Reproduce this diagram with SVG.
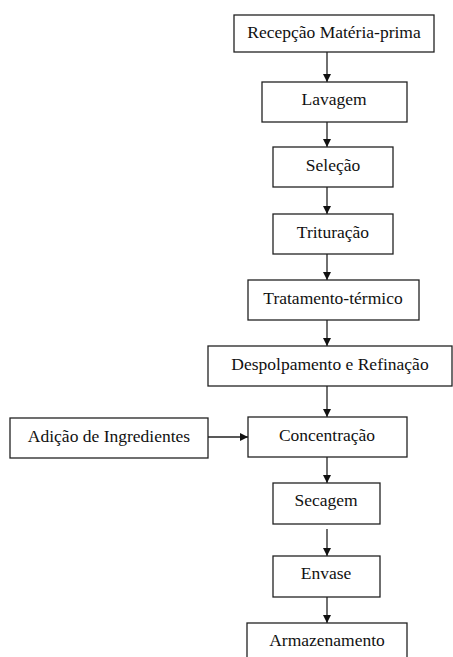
<svg xmlns="http://www.w3.org/2000/svg" width="453" height="657" viewBox="0 0 453 657">
<style>
.b{fill:#fff;stroke:#222;stroke-width:1.3}
.t{font-family:"Liberation Serif","Times New Roman",serif;font-size:17.5px;fill:#111;text-anchor:middle}
.c{stroke:#222;stroke-width:1.3;fill:none;marker-end:url(#a)}
</style>
<defs>
<marker id="a" viewBox="0 0 10 10" refX="10" refY="5" markerWidth="8" markerHeight="8" markerUnits="userSpaceOnUse" orient="auto">
<path d="M0,0 L10,5 L0,10 z" fill="#111"/>
</marker>
</defs>
<rect width="453" height="657" fill="#fff"/>
<g id="connectors">
<line class="c" x1="327" y1="52" x2="327" y2="82"/>
<line class="c" x1="327" y1="122" x2="327" y2="147"/>
<line class="c" x1="327" y1="187" x2="327" y2="214"/>
<line class="c" x1="327" y1="254" x2="327" y2="280"/>
<line class="c" x1="327" y1="320" x2="327" y2="346"/>
<line class="c" x1="327" y1="386" x2="327" y2="417"/>
<line class="c" x1="208" y1="437" x2="248" y2="437"/>
<line class="c" x1="327" y1="457" x2="327" y2="483"/>
<line class="c" x1="327" y1="529" x2="327" y2="556"/>
<line class="c" x1="327" y1="597" x2="327" y2="623"/>
</g>
<g id="n1"><rect class="b" x="234" y="15" width="200" height="37"/><text class="t" x="334" y="38">Recepção Matéria-prima</text></g>
<g id="n2"><rect class="b" x="262" y="82" width="145" height="40"/><text class="t" x="334" y="105">Lavagem</text></g>
<g id="n3"><rect class="b" x="273" y="147" width="120" height="40"/><text class="t" x="333" y="171">Seleção</text></g>
<g id="n4"><rect class="b" x="273" y="214" width="120" height="40"/><text class="t" x="333" y="238">Trituração</text></g>
<g id="n5"><rect class="b" x="248" y="280" width="171" height="40"/><text class="t" x="333" y="304">Tratamento-térmico</text></g>
<g id="n6"><rect class="b" x="208" y="346" width="244" height="40"/><text class="t" x="330" y="370">Despolpamento e Refinação</text></g>
<g id="n7"><rect class="b" x="248" y="417" width="159" height="40"/><text class="t" x="327" y="441">Concentração</text></g>
<g id="n8"><rect class="b" x="10" y="418" width="198" height="40"/><text class="t" x="109" y="442">Adição de Ingredientes</text></g>
<g id="n9"><rect class="b" x="273" y="483" width="107" height="41"/><text class="t" x="326" y="506">Secagem</text></g>
<g id="n10"><rect class="b" x="273" y="556" width="107" height="41"/><text class="t" x="326" y="579">Envase</text></g>
<g id="n11"><rect class="b" x="247" y="623" width="160" height="40"/><text class="t" x="327" y="646">Armazenamento</text></g>
</svg>
